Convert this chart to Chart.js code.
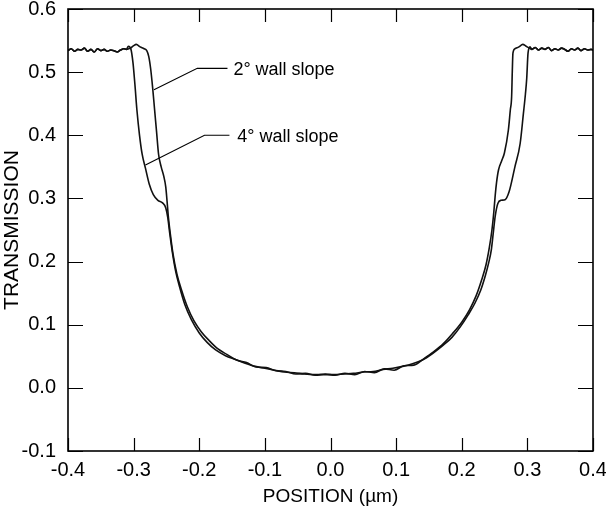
<!DOCTYPE html>
<html>
<head>
<meta charset="utf-8">
<script src="https://cdn.jsdelivr.net/npm/chart.js@4/dist/chart.umd.min.js"></script>
<style>
    html, body { margin: 0; padding: 0; background: #fff; }
    #wrap { width: 606px; height: 521px; }
</style>
</head>
<body>
<div id="wrap"><canvas id="chart"></canvas></div>
<script>
// Chart data
const seriesLabels = ['2° wall slope', '4° wall slope'];
const xTickValues = [-0.4, -0.3, -0.2, -0.1, 0.0, 0.1, 0.2, 0.3, 0.4];
const yTickValues = [-0.1, 0.0, 0.1, 0.2, 0.3, 0.4, 0.5, 0.6];

// flat (unetched) region, shared by both curves
const leftFlatX = [-0.400, -0.395, -0.390, -0.385, -0.380, -0.375, -0.370, -0.365, -0.360, -0.355,
    -0.350, -0.345, -0.340, -0.335, -0.330, -0.325, -0.320, -0.315, -0.311];
const leftFlatY = [0.534, 0.537, 0.533, 0.536, 0.535, 0.538, 0.533, 0.536, 0.532, 0.537,
    0.534, 0.536, 0.533, 0.535, 0.534, 0.532, 0.535, 0.537, 0.536];
const rightFlatX = [0.307, 0.312, 0.317, 0.322, 0.327, 0.332, 0.337, 0.342, 0.347, 0.352,
    0.357, 0.362, 0.367, 0.372, 0.377, 0.382, 0.387, 0.392, 0.397, 0.400];
const rightFlatY = [0.536, 0.539, 0.535, 0.538, 0.536, 0.539, 0.534, 0.537, 0.535, 0.538,
    0.536, 0.533, 0.537, 0.535, 0.538, 0.534, 0.537, 0.535, 0.536, 0.535];

// 2 degree wall slope
const slope2X = [-0.305, -0.300, -0.296, -0.290, -0.284, -0.280, -0.277, -0.274, -0.271, -0.268,
    -0.265, -0.262, -0.258, -0.254, -0.251, -0.249, -0.247, -0.244, -0.240, -0.234,
    -0.227, -0.218, -0.208, -0.197, -0.185, -0.172, -0.158, -0.143, -0.128, -0.113,
    -0.098, -0.083, -0.068, -0.053, -0.038, -0.023, -0.008, 0.007, 0.022, 0.037,
    0.052, 0.067, 0.082, 0.097, 0.112, 0.127, 0.142, 0.157, 0.172, 0.186,
    0.200, 0.212, 0.222, 0.230, 0.237, 0.242, 0.246, 0.249, 0.251, 0.253,
    0.256, 0.261, 0.265, 0.271, 0.274, 0.276, 0.277, 0.278, 0.281, 0.287,
    0.293, 0.298, 0.303];
const slope2Y = [0.538, 0.542, 0.544, 0.540, 0.537, 0.534, 0.525, 0.505, 0.475, 0.440,
    0.405, 0.370, 0.350, 0.335, 0.318, 0.295, 0.270, 0.243, 0.212, 0.180,
    0.155, 0.128, 0.106, 0.089, 0.075, 0.062, 0.053, 0.044, 0.040, 0.033,
    0.032, 0.027, 0.026, 0.022, 0.023, 0.020, 0.022, 0.020, 0.023, 0.021,
    0.026, 0.024, 0.030, 0.028, 0.035, 0.036, 0.046, 0.057, 0.070, 0.086,
    0.104, 0.124, 0.146, 0.170, 0.195, 0.222, 0.250, 0.280, 0.305, 0.325,
    0.345, 0.360, 0.372, 0.408, 0.440, 0.461, 0.500, 0.530, 0.537, 0.540,
    0.544, 0.541, 0.538];

// 4 degree wall slope
const slope4X = [-0.308, -0.304, -0.301, -0.298, -0.295, -0.291, -0.287, -0.282, -0.276, -0.270,
    -0.263, -0.256, -0.251, -0.248, -0.245, -0.241, -0.236, -0.230, -0.222, -0.212,
    -0.200, -0.188, -0.175, -0.160, -0.145, -0.130, -0.115, -0.100, -0.085, -0.070,
    -0.055, -0.040, -0.025, -0.010, 0.005, 0.020, 0.035, 0.050, 0.065, 0.080,
    0.095, 0.110, 0.125, 0.140, 0.155, 0.170, 0.185, 0.198, 0.210, 0.220,
    0.229, 0.236, 0.241, 0.245, 0.248, 0.251, 0.255, 0.260, 0.266, 0.272,
    0.281, 0.289, 0.294, 0.297, 0.299, 0.301, 0.304];
const slope4Y = [0.541, 0.536, 0.515, 0.480, 0.440, 0.400, 0.370, 0.348, 0.322, 0.306,
    0.297, 0.293, 0.285, 0.270, 0.245, 0.215, 0.185, 0.160, 0.132, 0.108,
    0.087, 0.072, 0.060, 0.051, 0.045, 0.039, 0.034, 0.031, 0.028, 0.025,
    0.024, 0.022, 0.021, 0.021, 0.021, 0.022, 0.023, 0.025, 0.026, 0.029,
    0.031, 0.034, 0.038, 0.044, 0.054, 0.066, 0.080, 0.097, 0.116, 0.134,
    0.155, 0.178, 0.198, 0.218, 0.245, 0.272, 0.292, 0.297, 0.298, 0.310,
    0.350, 0.387, 0.435, 0.465, 0.490, 0.530, 0.540];

function toPoints(xs, ys) {
    return xs.map((x, i) => ({ x: x, y: ys[i] }));
}

function curve(midX, midY) {
    return toPoints(leftFlatX.concat(midX, rightFlatX), leftFlatY.concat(midY, rightFlatY));
}

// leader lines + labels, in data coordinates
const callouts = [
    { text: seriesLabels[0], pts: [[-0.269, 0.472], [-0.203, 0.506], [-0.157, 0.506]], tx: -0.148, ty: 0.503 },
    { text: seriesLabels[1], pts: [[-0.282, 0.353], [-0.192, 0.400], [-0.154, 0.400]], tx: -0.142, ty: 0.397 }
];

const frameAndTicks = {
    id: 'frameAndTicks',
    afterDatasetsDraw(chart) {
        const { ctx, chartArea: a, scales: { x, y } } = chart;
        ctx.save();
        ctx.strokeStyle = '#000';
        ctx.lineWidth = 1.6;
        ctx.strokeRect(a.left, a.top, a.right - a.left, a.bottom - a.top);

        // inward tick marks on all four sides
        ctx.lineWidth = 1.2;
        ctx.beginPath();
        xTickValues.forEach(v => {
            const px = Math.round(x.getPixelForValue(v)) + 0.5;
            ctx.moveTo(px, a.bottom); ctx.lineTo(px, a.bottom - 13);
            ctx.moveTo(px, a.top); ctx.lineTo(px, a.top + 13);
        });
        yTickValues.forEach(v => {
            const py = Math.round(y.getPixelForValue(v)) + 0.5;
            ctx.moveTo(a.left, py); ctx.lineTo(a.left + 15, py);
            ctx.moveTo(a.right, py); ctx.lineTo(a.right - 15, py);
        });
        ctx.stroke();

        // callouts
        ctx.lineWidth = 1.1;
        ctx.fillStyle = '#000';
        ctx.font = '18px "Liberation Sans", Arial, sans-serif';
        ctx.textBaseline = 'middle';
        callouts.forEach(c => {
            ctx.beginPath();
            c.pts.forEach((p, i) => {
                const px = x.getPixelForValue(p[0]);
                const py = y.getPixelForValue(p[1]);
                if (i === 0) ctx.moveTo(px, py); else ctx.lineTo(px, py);
            });
            ctx.stroke();
            ctx.fillText(c.text, x.getPixelForValue(c.tx), y.getPixelForValue(c.ty));
        });
        ctx.restore();
    }
};

const tickFont = { family: '"Liberation Sans", Arial, sans-serif', size: 20 };

new Chart(document.getElementById('chart'), {
    type: 'scatter',
    data: {
        datasets: [
            {
                label: seriesLabels[0],
                data: curve(slope2X, slope2Y),
                showLine: true,
                borderColor: '#111',
                borderWidth: 1.6,
                pointRadius: 0,
                cubicInterpolationMode: 'monotone'
            },
            {
                label: seriesLabels[1],
                data: curve(slope4X, slope4Y),
                showLine: true,
                borderColor: '#111',
                borderWidth: 1.6,
                pointRadius: 0,
                cubicInterpolationMode: 'monotone'
            }
        ]
    },
    options: {
        responsive: true,
        maintainAspectRatio: false,
        animation: false,
        layout: { padding: { top: 9, right: 13, left: 0, bottom: 0 } },
        plugins: {
            legend: { display: false },
            tooltip: { enabled: false }
        },
        scales: {
            x: {
                type: 'linear',
                min: -0.4,
                max: 0.4,
                grid: { display: false, drawTicks: false },
                border: { display: false },
                afterBuildTicks: scale => { scale.ticks = xTickValues.map(v => ({ value: v })); },
                afterFit: scale => {
                    scale.height = 70;
                    scale.paddingLeft = 0;
                    scale.paddingRight = 0;
                },
                ticks: {
                    color: '#000',
                    font: tickFont,
                    padding: 7,
                    maxRotation: 0,
                    callback: v => v.toFixed(1)
                },
                title: {
                    display: true,
                    text: 'POSITION (µm)',
                    color: '#000',
                    font: { family: '"Liberation Sans", Arial, sans-serif', size: 19 },
                    padding: { top: 0, bottom: 13 }
                }
            },
            y: {
                type: 'linear',
                min: -0.1,
                max: 0.6,
                grid: { display: false, drawTicks: false },
                border: { display: false },
                afterBuildTicks: scale => { scale.ticks = yTickValues.map(v => ({ value: v })); },
                afterFit: scale => {
                    scale.width = 68;
                    scale.paddingTop = 0;
                    scale.paddingBottom = 0;
                },
                ticks: {
                    color: '#000',
                    font: tickFont,
                    padding: 12,
                    callback: v => v.toFixed(1)
                },
                title: {
                    display: true,
                    text: 'TRANSMISSION',
                    color: '#000',
                    font: { family: '"Liberation Sans", Arial, sans-serif', size: 21 },
                    padding: { top: 0, bottom: 0 }
                }
            }
        }
    },
    plugins: [frameAndTicks]
});
</script>
</body>
</html>
